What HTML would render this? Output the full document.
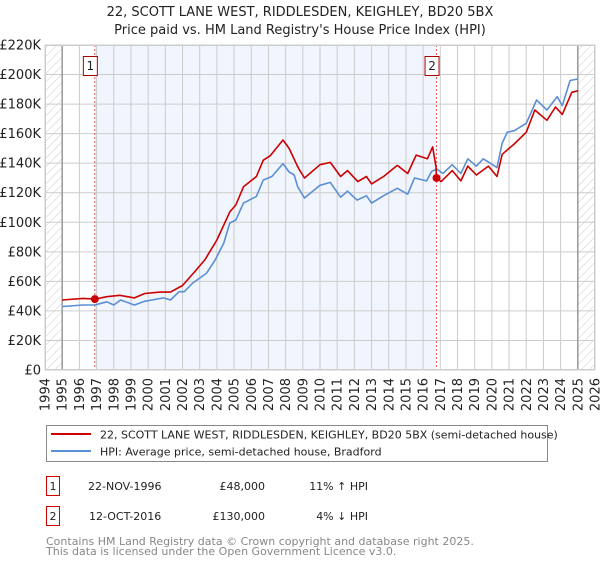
<!DOCTYPE html>
<html><head><meta charset="utf-8"><style>
body{margin:0;background:#fff;font-family:"DejaVu Sans","Liberation Sans",sans-serif;}
svg text{font-family:"DejaVu Sans","Liberation Sans",sans-serif;}
</style></head><body>
<svg id="c" width="600" height="560" xmlns="http://www.w3.org/2000/svg">
<defs><pattern id="hatch" width="6" height="6" patternUnits="userSpaceOnUse" patternTransform="rotate(45)"><line x1="0" y1="0" x2="0" y2="6" stroke="#ccc" stroke-width="1"/></pattern></defs>
<text x="300" y="16" text-anchor="middle" font-size="13" fill="#222">22, SCOTT LANE WEST, RIDDLESDEN, KEIGHLEY, BD20 5BX</text>
<text x="300" y="34" text-anchor="middle" font-size="13" fill="#222">Price paid vs. HM Land Registry's House Price Index (HPI)</text>
<g id="plot"></g>
<g>
<rect x="46.5" y="425.5" width="501" height="36" fill="#fff" stroke="#888"/>
<line x1="51" y1="434" x2="91" y2="434" stroke="#cc0000" stroke-width="2"/>
<text x="100" y="438.5" font-size="11" fill="#222">22, SCOTT LANE WEST, RIDDLESDEN, KEIGHLEY, BD20 5BX (semi-detached house)</text>
<line x1="51" y1="451" x2="91" y2="451" stroke="#5b8fd4" stroke-width="2"/>
<text x="100" y="455.5" font-size="11" fill="#222">HPI: Average price, semi-detached house, Bradford</text>
</g>
<g font-size="11" fill="#222">
<rect x="46.5" y="476.5" width="13" height="19" fill="#fff" stroke="#cc0000"/>
<text x="53" y="490" text-anchor="middle">1</text>
<text x="88" y="490">22-NOV-1996</text>
<text x="265" y="490" text-anchor="end">£48,000</text>
<text x="368" y="490" text-anchor="end">11% ↑ HPI</text>
<rect x="46.5" y="506.5" width="13" height="19" fill="#fff" stroke="#cc0000"/>
<text x="53" y="520" text-anchor="middle">2</text>
<text x="89" y="520">12-OCT-2016</text>
<text x="265" y="520" text-anchor="end">£130,000</text>
<text x="368" y="520" text-anchor="end">4% ↓ HPI</text>
</g>
<text x="46" y="545" font-size="11" fill="#888">Contains HM Land Registry data © Crown copyright and database right 2025.</text>
<text x="46" y="555" font-size="11" fill="#888">This data is licensed under the Open Government Licence v3.0.</text>
</svg>
<script>
const yTicks=[0,20000,40000,60000,80000,100000,120000,140000,160000,180000,200000,220000];
const yTickLabels=["£0","£20K","£40K","£60K","£80K","£100K","£120K","£140K","£160K","£180K","£200K","£220K"];
const xYears=[1994,1995,1996,1997,1998,1999,2000,2001,2002,2003,2004,2005,2006,2007,2008,2009,2010,2011,2012,2013,2014,2015,2016,2017,2018,2019,2020,2021,2022,2023,2024,2025,2026];
const hpiDates=[1995.0,1996.2,1996.9,1997.6,1998.0,1998.4,1999.2,1999.8,2000.9,2001.3,2001.8,2002.1,2002.6,2003.4,2003.9,2004.4,2004.75,2005.1,2005.55,2006.3,2006.7,2007.2,2007.85,2008.2,2008.5,2008.7,2009.1,2010.0,2010.6,2011.2,2011.6,2012.15,2012.7,2013.0,2013.7,2014.5,2015.1,2015.5,2016.2,2016.5,2016.8,2017.15,2017.7,2018.2,2018.6,2019.1,2019.5,2020.3,2020.6,2020.9,2021.3,2022.0,2022.6,2023.2,2023.8,2024.1,2024.55,2025.0];
const hpiValues=[42900,44000,44000,46200,44000,47400,44000,46500,48800,47400,53000,53000,58900,65600,74500,86000,99500,101500,113000,117500,128600,131000,139700,134000,132000,124000,116400,125000,127000,117000,121000,115000,118000,113000,118000,123000,119000,130000,128000,134500,136000,133000,139000,133000,143000,138000,143000,137000,153600,161000,162000,167000,182800,176000,185000,179000,196000,197000];
const priceDates=[1995.0,1996.2,1996.9,1997.6,1998.35,1999.2,1999.8,2000.7,2001.3,2002.0,2002.8,2003.3,2004.0,2004.75,2005.1,2005.55,2006.3,2006.7,2007.1,2007.85,2008.2,2008.7,2008.83,2009.1,2010.0,2010.6,2011.2,2011.6,2012.2,2012.7,2013.0,2013.7,2014.5,2015.1,2015.6,2016.25,2016.55,2016.75,2016.78,2017.05,2017.7,2018.2,2018.6,2019.1,2019.8,2020.3,2020.6,2021.3,2022.0,2022.5,2023.2,2023.7,2024.1,2024.65,2025.0];
const priceValues=[47400,48500,48000,49600,50600,48800,51800,52700,52700,57200,67700,74500,88000,107000,111700,124000,131000,142000,145000,155700,150000,137600,135000,130000,139000,140500,131000,135000,127500,131000,126000,131000,138500,133000,145500,143000,151000,137500,130000,127500,135000,128000,138000,132000,138000,131000,146000,153000,161000,176000,169000,178000,173000,188000,189000];
const saleDates=[1996.9,2016.78];
const salePrices=[48000,130000];
const saleLabels=["1","2"];

const NS="http://www.w3.org/2000/svg";
const L=45,R=595,T=45,B=370,X0=1994,X1=2026,YMAX=220000;
const xs=v=>L+(v-X0)/(X1-X0)*(R-L);
const ys=v=>B-v/YMAX*(B-T);
const plot=document.getElementById('plot');
function mk(tag,attrs,parent){const e=document.createElementNS(NS,tag);for(const k in attrs)e.setAttribute(k,attrs[k]);(parent||plot).appendChild(e);return e;}

let bg=mk('rect',{x:L,y:T,width:R-L,height:B-T,fill:'#fff'});


let shade=mk('rect',{x:xs(saleDates[0]),y:T,width:xs(saleDates[1])-xs(saleDates[0]),height:B-T,fill:'#f1f5fd'});


let h1=mk('rect',{x:L,y:T,width:xs(1995)-L,height:B-T,fill:'url(#hatch)'});


let h2=mk('rect',{x:xs(2025),y:T,width:R-xs(2025),height:B-T,fill:'url(#hatch)'});



xYears.forEach(y=>{
  let g=mk('line',{x1:xs(y),x2:xs(y),y1:T,y2:B,stroke:'#ccc','stroke-width':1});
  
  
  let t=mk('text',{x:0,y:0,'font-size':13,fill:'#222','text-anchor':'end',transform:`translate(${xs(y)+4.5},${B+8}) rotate(-90)`});
  t.textContent=y;
  
  
});
yTicks.forEach((v,i)=>{
  let g=mk('line',{x1:L,x2:R,y1:ys(v),y2:ys(v),stroke:'#ccc','stroke-width':1});
  
  
  let t=mk('text',{x:L-4,y:ys(v)+4.5,'font-size':13,fill:'#222','text-anchor':'end'});
  t.textContent=yTickLabels[i];
  
  
});
[1995,2025].forEach(y=>{
  let l=mk('line',{x1:xs(y),x2:xs(y),y1:T,y2:B,stroke:'#999','stroke-width':1.5});
  
  
});
saleDates.forEach((d,i)=>{
  let l=mk('line',{x1:xs(d),x2:xs(d),y1:T,y2:B,stroke:'#e05a5a','stroke-width':1,'stroke-dasharray':'2,2'});
  
  
});
function path(dates,vals,color,name){
  let d=dates.map((t,i)=>(i?'L':'M')+xs(t).toFixed(1)+','+ys(vals[i]).toFixed(1)).join('');
  let p=mk('path',{d:d,fill:'none',stroke:color,'stroke-width':1.6,'stroke-linejoin':'round'});
  
  
}
path(hpiDates,hpiValues,'#5b8fd4','hpi-line');
path(priceDates,priceValues,'#cc0000','property-price-line');
saleDates.forEach((d,i)=>{
  let c=mk('circle',{cx:xs(d),cy:ys(salePrices[i]),r:4,fill:'#cc0000'});
  
  
  let bx=mk('rect',{x:xs(d)-11.5,y:56.5,width:14,height:19,fill:'#fff',stroke:'#aa0000'});
  
  
  let t=mk('text',{x:xs(d)-4.5,y:70,'font-size':12,fill:'#222','text-anchor':'middle'});
  t.textContent=saleLabels[i];
  
  
});
let fr=mk('rect',{x:L+0.5,y:T+0.5,width:R-L-1,height:B-T-1,fill:'none',stroke:'#ccc'});


</script>
</body></html>
